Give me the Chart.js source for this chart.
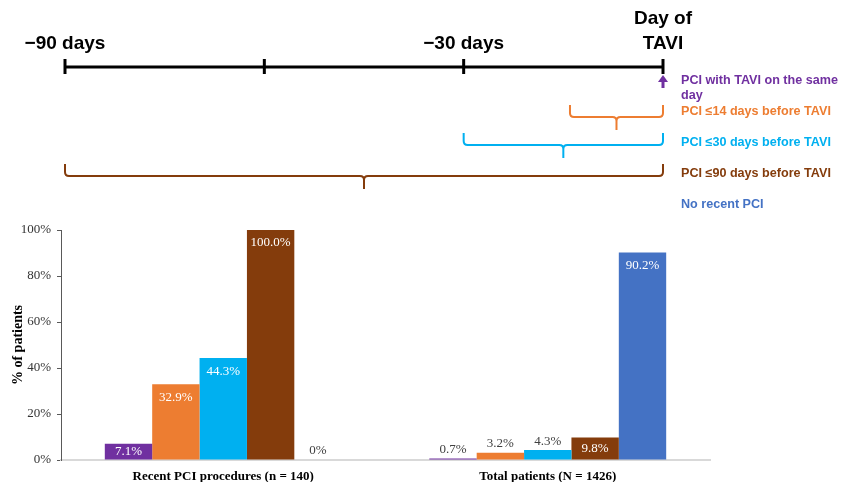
<!DOCTYPE html>
<html>
<head>
<meta charset="utf-8">
<script src="https://cdn.jsdelivr.net/npm/chart.js@4"></script>
<style>
  html, body { margin: 0; padding: 0; background: #fff; }
  #wrap { width: 841px; height: 482px; position: relative; }
</style>
</head>
<body>
<div id="wrap"><canvas id="grafico"></canvas></div>
<script>
// categorias e séries
const categorias = ["Recent PCI procedures (n = 140)", "Total patients (N = 1426)"];
const series = [
  "PCI with TAVI on the same day",
  "PCI \u226414 days before TAVI",
  "PCI \u226430 days before TAVI",
  "PCI \u226490 days before TAVI",
  "No recent PCI"
];
const mesmoDia = [7.1, 0.7];
const ate14 = [32.9, 3.2];
const ate30 = [44.3, 4.3];
const ate90 = [100.0, 9.8];
const semPCI = [0, 90.2];
const valoresY = [0, 20, 40, 60, 80, 100];

// linha do tempo (dias antes do TAVI)
const marcasDias = [-90, -60, -30, 0];
const rotulosDias = [[-90, ["\u221290 days"]], [-30, ["\u221230 days"]], [0, ["Day of", "TAVI"]]];
const chavesDias = [14, 30, 90];

const cores = ["#7030A0", "#ED7D31", "#00B0F0", "#843C0C", "#4472C4"];
const valores = [mesmoDia, ate14, ate30, ate90, semPCI];

// desenha a linha do tempo no topo
const linhaTempo = {
  id: "linhaTempo",
  afterDraw(chart) {
    const ctx = chart.ctx;
    const x0 = 65, x1 = 663;
    const px = d => x1 + (d / 90) * (x1 - x0);
    const yLinha = 67;
    ctx.save();
    ctx.strokeStyle = "#000";
    ctx.lineWidth = 3;
    ctx.beginPath();
    ctx.moveTo(px(-90), yLinha);
    ctx.lineTo(px(0), yLinha);
    ctx.stroke();
    marcasDias.forEach(d => {
      ctx.beginPath();
      ctx.moveTo(px(d), yLinha - 8);
      ctx.lineTo(px(d), yLinha + 7);
      ctx.stroke();
    });
    ctx.fillStyle = "#000";
    ctx.font = "bold 19px 'Liberation Sans', Arial, sans-serif";
    ctx.textAlign = "center";
    ctx.textBaseline = "middle";
    rotulosDias.forEach(([d, linhas]) => {
      linhas.forEach((t, i) => {
        const y = 44 - (linhas.length - 1 - i) * 25;
        ctx.fillText(t, px(d), y);
      });
    });

    // seta roxa
    ctx.fillStyle = cores[0];
    ctx.beginPath();
    ctx.moveTo(px(0), 75);
    ctx.lineTo(px(0) - 5, 82);
    ctx.lineTo(px(0) + 5, 82);
    ctx.closePath();
    ctx.fill();
    ctx.fillRect(px(0) - 1.5, 81, 3, 7);

    // chaves
    const topos = [105, 133, 164];
    chavesDias.forEach((d, i) => {
      const xa = px(-d), xb = px(0), mid = (xa + xb) / 2;
      const yt = topos[i], yh = yt + 12, tip = yt + 25, r = 4;
      ctx.strokeStyle = cores[i + 1];
      ctx.lineWidth = 2;
      ctx.beginPath();
      ctx.moveTo(xa, yt);
      ctx.lineTo(xa, yh - r);
      ctx.quadraticCurveTo(xa, yh, xa + r, yh);
      ctx.lineTo(mid - r, yh);
      ctx.quadraticCurveTo(mid, yh, mid, yh + r);
      ctx.lineTo(mid, tip);
      ctx.moveTo(mid, yh + r);
      ctx.quadraticCurveTo(mid, yh, mid + r, yh);
      ctx.lineTo(xb - r, yh);
      ctx.quadraticCurveTo(xb, yh, xb, yh - r);
      ctx.lineTo(xb, yt);
      ctx.stroke();
    });

    // legendas à direita
    ctx.font = "bold 12.6px 'Liberation Sans', Arial, sans-serif";
    ctx.textAlign = "left";
    const yLeg = [81, 112, 143, 174, 205];
    series.forEach((s, i) => {
      ctx.fillStyle = cores[i];
      let linhas = [s];
      if (ctx.measureText(s).width > 155) {
        const p = s.split(" ");
        linhas = [p.slice(0, -1).join(" "), p[p.length - 1]];
      }
      linhas.forEach((t, j) => ctx.fillText(t, 681, yLeg[i] + j * 15));
    });
    ctx.restore();
  }
};

// rótulos de valor nas barras
const rotulosBarras = {
  id: "rotulosBarras",
  afterDatasetsDraw(chart) {
    const ctx = chart.ctx;
    ctx.save();
    ctx.font = "13px 'Liberation Serif', 'Times New Roman', serif";
    ctx.textAlign = "center";
    ctx.textBaseline = "middle";
    chart.data.datasets.forEach((ds, i) => {
      chart.getDatasetMeta(i).data.forEach((bar, j) => {
        const v = ds.data[j];
        const txt = v === 0 ? "0%" : v.toFixed(1) + "%";
        if (v >= 5) {
          ctx.fillStyle = "#fff";
          ctx.fillText(txt, bar.x, Math.min(bar.y + 13, (bar.y + bar.base) / 2));
        } else {
          ctx.fillStyle = "#404040";
          ctx.fillText(txt, bar.x, bar.y - 9);
        }
      });
    });
    ctx.restore();
  }
};

new Chart(document.getElementById("grafico"), {
  type: "bar",
  data: {
    labels: categorias,
    datasets: series.map((s, i) => ({
      label: s,
      data: valores[i],
      backgroundColor: cores[i],
      categoryPercentage: 0.73,
      barPercentage: 1
    }))
  },
  options: {
    responsive: true,
    maintainAspectRatio: false,
    animation: false,
    layout: { padding: { top: 230, left: 10, right: 131, bottom: 0 } },
    plugins: {
      legend: { display: false },
      tooltip: { enabled: false }
    },
    scales: {
      x: {
        grid: { display: false, tickLength: 0 },
        border: { display: true, color: "#d9d9d9", width: 2 },
        ticks: {
          color: "#000",
          padding: 9,
          font: { family: "'Liberation Serif', 'Times New Roman', serif", size: 13, weight: "bold" }
        },
        afterFit: s => { s.height = 22; }
      },
      y: {
        min: 0,
        max: 100,
        afterBuildTicks: s => { s.ticks = valoresY.map(v => ({ value: v })); },
        grid: { display: true, drawOnChartArea: false, tickLength: 4, color: "#595959" },
        border: { display: true, color: "#595959", width: 1 },
        ticks: {
          color: "#333",
          padding: 6,
          font: { family: "'Liberation Serif', 'Times New Roman', serif", size: 13 },
          callback: v => v + "%"
        },
        title: {
          display: true,
          text: "% of patients",
          color: "#000",
          padding: { top: 0, bottom: 4 },
          font: { family: "'Liberation Serif', 'Times New Roman', serif", size: 14, weight: "bold" }
        },
        afterFit: s => { s.width = 51; }
      }
    }
  },
  plugins: [linhaTempo, rotulosBarras]
});
</script>
</body>
</html>
